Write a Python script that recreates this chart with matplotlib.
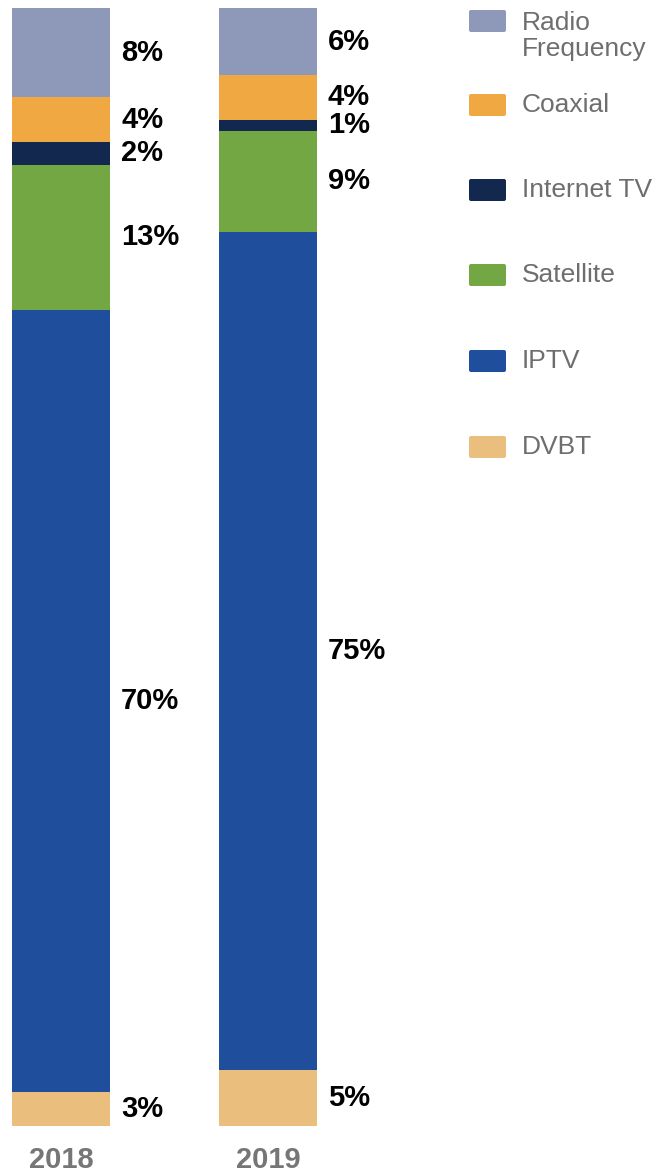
import matplotlib
matplotlib.use("Agg")
import matplotlib.pyplot as plt
from matplotlib.patches import FancyBboxPatch

years = ["2018", "2019"]
categories = ["DVBT", "IPTV", "Satellite", "Internet TV", "Coaxial", "Radio Frequency"]
share_2018 = [3, 70, 13, 2, 4, 8]
share_2019 = [5, 75, 9, 1, 4, 6]
colors = ["#EABF7E", "#1F4E9C", "#72A744", "#12284F", "#F0A942", "#8E98B8"]
legend_labels = ["Radio\nFrequency", "Coaxial", "Internet TV", "Satellite", "IPTV", "DVBT"]

BOLD = ["Liberation Sans", "DejaVu Sans"]
REG = ["Liberation Sans", "DejaVu Sans"]

W, H = 665, 1175
fig = plt.figure(figsize=(W / 100, H / 100), dpi=100)

# bar area: top at y=8 px, bottom at y=1126 px
ax_left, ax_right = 0, 430
ax = fig.add_axes([ax_left / W, (H - 1126) / H, (ax_right - ax_left) / W, 1118 / H])
px_per_unit = 207
bar_w = 98 / px_per_unit
ax.set_xlim(-61 / px_per_unit, (ax_right - 61) / px_per_unit)
ax.set_ylim(0, 100)
ax.axis("off")
unit_per_px_y = 100 / 1118

for i, shares in enumerate([share_2018, share_2019]):
    bottom = 0
    for val, col in zip(shares, colors):
        ax.bar(i, val, bottom=bottom, width=bar_w, color=col, linewidth=0)
        ax.text(i + bar_w / 2 + 11 / px_per_unit, bottom + val / 2, f"{val}%",
                ha="left", va="center", fontsize=21, fontweight="bold",
                family=BOLD, color="black")
        bottom += val
    ax.text(i, -42 * unit_per_px_y, years[i], ha="center", va="baseline", fontsize=21,
            fontweight="bold", family=BOLD, color="#767676", clip_on=False)

# legend, top to bottom
legend_colors = colors[::-1]
centers = [21, 105, 190, 275, 361, 447]
for lab, col, cy in zip(legend_labels, legend_colors, centers):
    patch = FancyBboxPatch((471 / W, (H - cy - 9) / H), 33 / W, 18 / H,
                           boxstyle="round,pad=0.003", transform=fig.transFigure,
                           facecolor=col, edgecolor="none", mutation_aspect=W / H)
    fig.patches.append(patch)
    ty = cy if "\n" not in lab else cy + 15
    fig.text(522 / W, (H - ty) / H, lab, ha="left", va="center", fontsize=19,
             family=REG, color="#6E6E6E", linespacing=1.1)

fig.savefig("out.png", dpi=100)
